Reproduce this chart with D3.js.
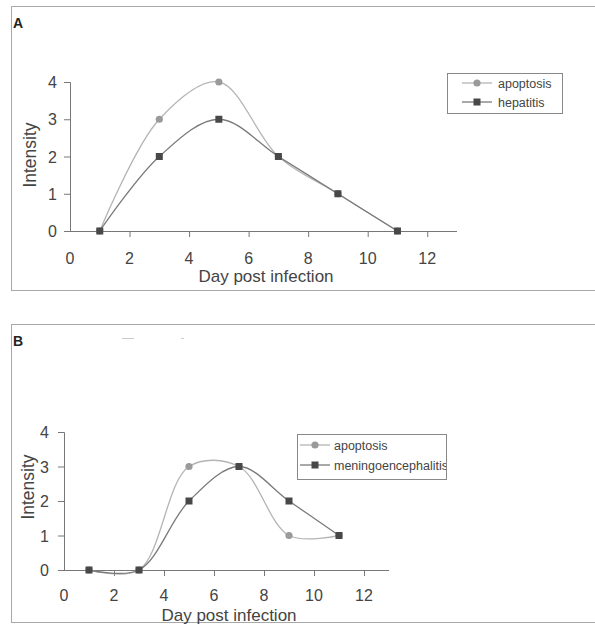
<!DOCTYPE html>
<html>
<head>
<meta charset="utf-8">
<script src="https://cdn.jsdelivr.net/npm/d3@7"></script>
<style>
    body { margin: 0; background: #fff; }
    svg { display: block; font-family: "Liberation Sans", Arial, sans-serif; }
</style>
</head>
<body>
<script>
// data
const days = [1, 3, 5, 7, 9, 11];
const xTicks = [0, 2, 4, 6, 8, 10, 12];
const yTicks = [0, 1, 2, 3, 4];

const apoptosisA = [0, 3, 4, 2, 1, 0];
const hepatitisA = [0, 2, 3, 2, 1, 0];

const apoptosisB = [0, 0, 3, 3, 1, 1];
const meningoB = [0, 0, 2, 3, 2, 1];

const panels = [
    {
        label: "A", frame: [11, 6, 620, 284],
        x0: 70, x1: 457, yBottom: 231, yTop: 82, yLabGap: 13,
        tickY: 264, titleX: 266, titleY: 282, ylabX: 36, ylabY: 155,
        legend: {x: 447, y: 73, w: 115, h: 40, rows: [83, 102], line: [462, 492], text: 498},
        series: [
            {name: "apoptosis", values: apoptosisA, shape: "circle"},
            {name: "hepatitis", values: hepatitisA, shape: "square"}
        ]
    },
    {
        label: "B", frame: [11, 324, 620, 298],
        x0: 64, x1: 389, yBottom: 570, yTop: 432, yLabGap: 15,
        tickY: 601, titleX: 229, titleY: 621, ylabX: 34, ylabY: 487,
        legend: {x: 297, y: 434, w: 149, h: 45, rows: [445, 465], line: [300, 330], text: 334},
        series: [
            {name: "apoptosis", values: apoptosisB, shape: "circle"},
            {name: "meningoencephalitis", values: meningoB, shape: "square"}
        ]
    }
];

const style = {
    circle: {line: "#b4b4b4", fill: "#9a9a9a"},
    square: {line: "#7a7a7a", fill: "#484848"}
};

let svg = d3.select("body").append("svg")
    .attr("width", 595)
    .attr("height", 626);

function marker(g, shape, cx, cy) {
    if (shape === "circle") {
        g.append("circle")
            .attr("cx", cx).attr("cy", cy).attr("r", 3.6)
            .attr("fill", style.circle.fill);
    } else {
        g.append("rect")
            .attr("x", cx - 3.5).attr("y", cy - 3.5)
            .attr("width", 7).attr("height", 7)
            .attr("fill", style.square.fill);
    }
}

panels.forEach(p => {
    let g = svg.append("g");
    let [fx, fy, fw, fh] = p.frame;

    g.append("rect")
        .attr("x", fx + 0.5).attr("y", fy + 0.5)
        .attr("width", fw).attr("height", fh)
        .attr("fill", "none")
        .attr("stroke", "#a8a8a8");

    g.append("text")
        .attr("x", fx + 2).attr("y", fy + 22)
        .attr("font-size", 14).attr("font-weight", "bold")
        .attr("fill", "#222")
        .text(p.label);

    let x = d3.scaleLinear().domain([0, 13]).range([p.x0, p.x1]);
    let y = d3.scaleLinear().domain([0, 4]).range([p.yBottom, p.yTop]);

    // axes
    let xAxis = g.append("g")
        .attr("transform", "translate(0," + p.yBottom + ")")
        .call(d3.axisBottom(x).tickValues(xTicks.slice(1)).tickSize(6).tickFormat(""));
    let yAxis = g.append("g")
        .attr("transform", "translate(" + p.x0 + ",0)")
        .call(d3.axisLeft(y).tickValues(yTicks).tickSize(6).tickFormat(""));
    [xAxis, yAxis].forEach(a => {
        a.select(".domain").attr("stroke", "#777");
        a.selectAll(".tick line").attr("stroke", "#777");
    });
    xAxis.select(".domain").attr("d", "M" + (p.x0 - 6) + ",0.5H" + p.x1);

    g.selectAll(".xt")
        .data(xTicks)
        .join("text")
        .attr("x", d => x(d))
        .attr("y", p.tickY)
        .attr("text-anchor", "middle")
        .attr("font-size", 16)
        .attr("fill", "#444")
        .text(d => d);

    g.selectAll(".yt")
        .data(yTicks)
        .join("text")
        .attr("x", p.x0 - p.yLabGap)
        .attr("y", d => y(d) + 6)
        .attr("text-anchor", "end")
        .attr("font-size", 16)
        .attr("fill", "#444")
        .text(d => d);

    g.append("text")
        .attr("x", p.titleX).attr("y", p.titleY)
        .attr("text-anchor", "middle")
        .attr("font-size", 17)
        .attr("fill", "#444")
        .text("Day post infection");

    g.append("text")
        .attr("transform", "translate(" + p.ylabX + "," + p.ylabY + ") rotate(-90)")
        .attr("text-anchor", "middle")
        .attr("font-size", 17.5)
        .attr("fill", "#444")
        .text("Intensity");

    let line = d3.line()
        .x((d, i) => x(days[i]))
        .y(d => y(d))
        .curve(d3.curveCatmullRom.alpha(0.5));

    p.series.forEach(s => {
        g.append("path")
            .datum(s.values)
            .attr("d", line)
            .attr("fill", "none")
            .attr("stroke", style[s.shape].line)
            .attr("stroke-width", 1.3);
    });
    p.series.forEach(s => {
        s.values.forEach((v, i) => marker(g, s.shape, x(days[i]), y(v)));
    });

    // legend
    let L = p.legend;
    let lg = g.append("g");
    lg.append("clipPath").attr("id", "clip" + p.label)
        .append("rect").attr("x", L.x).attr("y", L.y).attr("width", L.w).attr("height", L.h);
    lg.append("rect")
        .attr("x", L.x + 0.5).attr("y", L.y + 0.5)
        .attr("width", L.w).attr("height", L.h)
        .attr("fill", "#fff")
        .attr("stroke", "#888");
    p.series.forEach((s, i) => {
        let ry = L.rows[i];
        lg.append("line")
            .attr("x1", L.line[0]).attr("x2", L.line[1])
            .attr("y1", ry).attr("y2", ry)
            .attr("stroke", style[s.shape].line)
            .attr("stroke-width", 1.3);
        marker(lg, s.shape, (L.line[0] + L.line[1]) / 2, ry);
        lg.append("text")
            .attr("x", L.text).attr("y", ry + 4.5)
            .attr("font-size", 12.5)
            .attr("fill", "#444")
            .attr("clip-path", "url(#clip" + p.label + ")")
            .text(s.name);
    });
});

// faint scan marks above panel B
svg.append("line").attr("x1", 122).attr("x2", 134).attr("y1", 338.5).attr("y2", 338.5)
    .attr("stroke", "#ccc");
svg.append("line").attr("x1", 181).attr("x2", 184).attr("y1", 338.5).attr("y2", 338.5)
    .attr("stroke", "#ccc");
</script>
</body>
</html>
